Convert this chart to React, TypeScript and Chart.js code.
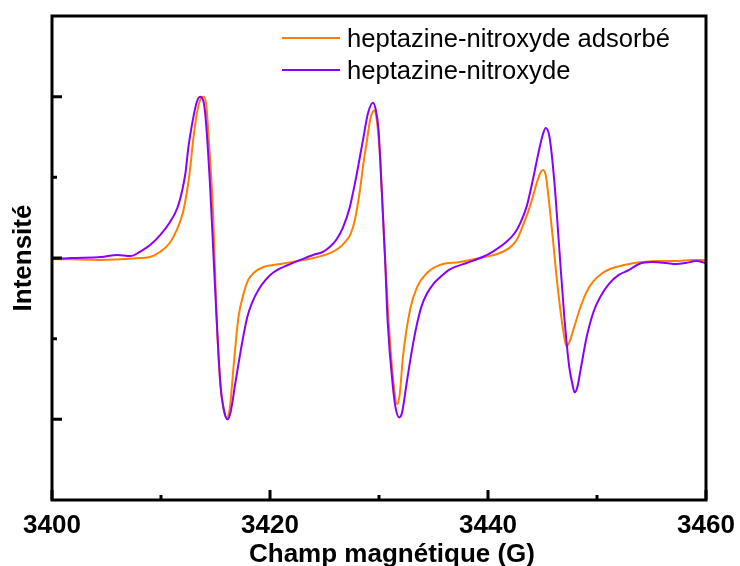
import React, { useEffect, useRef } from 'react';
import { Chart, registerables } from 'chart.js';

Chart.register(...registerables);

// ---- data ----
const xMajorTicks = [3400, 3420, 3440, 3460];
const xMinorTicks = [3410, 3430, 3450];
const yMajorTicks = [-1, 0, 1];
const yMinorTicks = [-0.5, 0.5];

const seriesLabels = ['heptazine-nitroxyde adsorbé', 'heptazine-nitroxyde'];
const xTitle = 'Champ magnétique (G)';
const yTitle = 'Intensité';

const orangeField = [
  3400.0, 3404.5, 3408.1, 3409.0, 3409.9, 3410.8, 3411.45, 3412.0, 3412.4, 3412.65,
  3412.95, 3413.3, 3413.6, 3413.9, 3414.15, 3414.35, 3414.8, 3415.1, 3415.45, 3415.75,
  3416.0, 3416.3, 3416.65, 3417.1, 3417.55, 3418.0, 3418.5, 3419.4, 3420.95, 3422.5,
  3424.0, 3425.5, 3426.3, 3426.9, 3427.4, 3427.8, 3428.25, 3428.6, 3428.9, 3429.2,
  3429.55, 3429.8, 3430.1, 3430.55, 3431.0, 3431.4, 3431.65, 3431.9, 3432.2, 3432.85,
  3433.5, 3434.4, 3435.6, 3437.4, 3439.25, 3441.1, 3442.1, 3442.7, 3443.2, 3443.85,
  3444.45, 3444.75, 3445.05, 3445.3, 3445.45, 3445.9, 3446.35, 3446.85, 3447.2, 3447.45,
  3447.75, 3448.4, 3449.0, 3449.55, 3450.5, 3451.75, 3452.95, 3454.15, 3455.7, 3457.25,
  3458.7, 3460.0,
];
const orangeIntensity = [
  -0.006, -0.012, 0.0, 0.006, 0.037, 0.093, 0.174, 0.279, 0.42, 0.54,
  0.73, 0.9, 0.98, 1.0, 0.95, 0.77, 0.247, -0.37, -0.784, -0.938,
  -0.988, -0.938, -0.679, -0.37, -0.228, -0.136, -0.093, -0.056, -0.037, -0.019,
  0.0, 0.03, 0.06, 0.1, 0.15, 0.24, 0.42, 0.6, 0.73, 0.86,
  0.914, 0.852, 0.623, 0.006, -0.506, -0.815, -0.907, -0.846, -0.611, -0.321,
  -0.179, -0.093, -0.043, -0.025, 0.0, 0.031, 0.07, 0.12, 0.2, 0.32,
  0.46, 0.52, 0.545, 0.512, 0.438, 0.154, -0.154, -0.426, -0.549, -0.525,
  -0.463, -0.321, -0.216, -0.154, -0.093, -0.056, -0.037, -0.025, -0.019, -0.019,
  -0.012, -0.012,
];

const purpleField = [
  3400.0, 3401.7, 3404.5, 3406.0, 3407.2, 3408.1, 3409.0, 3409.9, 3410.8, 3411.5,
  3411.95, 3412.25, 3412.5, 3412.85, 3413.3, 3413.6, 3413.9, 3414.1, 3414.5, 3414.8,
  3415.1, 3415.45, 3415.8, 3416.1, 3416.4, 3416.8, 3417.3, 3417.9, 3418.4, 3419.0,
  3419.6, 3420.3, 3421.6, 3422.8, 3424.0, 3424.9, 3425.5, 3426.1, 3426.7, 3427.3,
  3427.9, 3428.5, 3429.0, 3429.45, 3429.7, 3429.95, 3430.25, 3430.55, 3430.8, 3431.3,
  3431.55, 3431.85, 3432.1, 3432.55, 3433.0, 3433.45, 3433.9, 3434.4, 3435.0, 3435.6,
  3436.5, 3438.05, 3439.5, 3440.45, 3441.7, 3442.45, 3442.95, 3443.55, 3444.1, 3444.75,
  3445.05, 3445.3, 3445.65, 3446.1, 3446.55, 3447.0, 3447.45, 3447.75, 3447.95, 3448.2,
  3448.5, 3449.05, 3449.7, 3450.35, 3451.1, 3452.0, 3452.95, 3453.85, 3455.05, 3456.35,
  3457.25, 3458.15, 3459.1, 3460.0,
];
const purpleIntensity = [
  -0.008, 0.0, 0.006, 0.019, 0.012, 0.04, 0.08, 0.14, 0.22, 0.31,
  0.42, 0.53, 0.68, 0.83, 0.97, 1.0, 0.97, 0.864, 0.451, 0.037,
  -0.37, -0.784, -0.951, -1.0, -0.951, -0.784, -0.58, -0.37, -0.27, -0.19,
  -0.135, -0.09, -0.045, -0.012, 0.02, 0.04, 0.07, 0.115, 0.19, 0.31,
  0.5, 0.72, 0.9, 0.963, 0.92, 0.8, 0.42, 0.006, -0.4, -0.815,
  -0.938, -0.988, -0.963, -0.77, -0.58, -0.42, -0.3, -0.22, -0.16, -0.12,
  -0.07, -0.031, 0.006, 0.04, 0.1, 0.155, 0.215, 0.32, 0.48, 0.69,
  0.77, 0.806, 0.747, 0.463, 0.049, -0.364, -0.673, -0.784, -0.833, -0.8,
  -0.69, -0.49, -0.33, -0.235, -0.16, -0.105, -0.074, -0.037, -0.025, -0.031,
  -0.037, -0.031, -0.019, -0.031,
];

const ORANGE = '#ff8000';
const PURPLE = '#8a00ff';
const FAMILY = '"Liberation Sans", Arial, sans-serif';

const frameTicksPlugin = {
  id: 'frameTicks',
  afterDatasetsDraw(chart: any) {
    const { ctx, chartArea: a, scales } = chart;
    const xs = scales.x;
    const ys = scales.y;
    ctx.save();
    ctx.strokeStyle = '#000';
    ctx.lineWidth = 3;
    ctx.beginPath();
    xMajorTicks.forEach((v) => {
      const p = xs.getPixelForValue(v);
      ctx.moveTo(p, a.bottom);
      ctx.lineTo(p, a.bottom - 10);
    });
    xMinorTicks.forEach((v) => {
      const p = xs.getPixelForValue(v);
      ctx.moveTo(p, a.bottom);
      ctx.lineTo(p, a.bottom - 5);
    });
    yMajorTicks.forEach((v) => {
      const p = ys.getPixelForValue(v);
      ctx.moveTo(a.left, p);
      ctx.lineTo(a.left + 10, p);
    });
    yMinorTicks.forEach((v) => {
      const p = ys.getPixelForValue(v);
      ctx.moveTo(a.left, p);
      ctx.lineTo(a.left + 5, p);
    });
    ctx.stroke();
    ctx.strokeRect(a.left, a.top, a.right - a.left, a.bottom - a.top);
    ctx.restore();
  },
};

const insideLegendPlugin = {
  id: 'insideLegend',
  afterDraw(chart: any) {
    const { ctx, chartArea: a } = chart;
    ctx.save();
    ctx.font = `25.6px ${FAMILY}`;
    ctx.textAlign = 'left';
    ctx.textBaseline = 'alphabetic';
    const rows = [
      { ds: chart.data.datasets[0], y: a.top + 22 },
      { ds: chart.data.datasets[1], y: a.top + 54 },
    ];
    rows.forEach(({ ds, y }) => {
      ctx.strokeStyle = ds.borderColor;
      ctx.lineWidth = 2;
      ctx.beginPath();
      ctx.moveTo(a.left + 230, y);
      ctx.lineTo(a.left + 288, y);
      ctx.stroke();
      ctx.fillStyle = '#000';
      ctx.fillText(ds.label, a.left + 295, y + 8.5);
    });
    // x axis title (slightly right of the plot centre, as in the reference)
    ctx.font = `bold 26px ${FAMILY}`;
    ctx.textAlign = 'center';
    ctx.textBaseline = 'middle';
    ctx.fillText(xTitle, (a.left + a.right) / 2 + 13, 555);
    ctx.restore();
  },
};

export default function App() {
  const canvasRef = useRef<HTMLCanvasElement | null>(null);

  useEffect(() => {
    if (!canvasRef.current) return;
    const chart = new Chart(canvasRef.current, {
      type: 'line',
      data: {
        datasets: [
          {
            label: seriesLabels[0],
            data: orangeField.map((x, i) => ({ x, y: orangeIntensity[i] })),
            borderColor: ORANGE,
            backgroundColor: ORANGE,
            borderWidth: 2,
            pointRadius: 0,
            cubicInterpolationMode: 'monotone',
            order: 1,
          },
          {
            label: seriesLabels[1],
            data: purpleField.map((x, i) => ({ x, y: purpleIntensity[i] })),
            borderColor: PURPLE,
            backgroundColor: PURPLE,
            borderWidth: 2,
            pointRadius: 0,
            cubicInterpolationMode: 'monotone',
            order: 0,
          },
        ],
      },
      options: {
        animation: false,
        responsive: false,
        devicePixelRatio: 1,
        layout: { padding: { top: 16, right: 34, bottom: 0, left: 0 } },
        plugins: {
          legend: { display: false },
          tooltip: { enabled: false },
          title: { display: false },
        },
        scales: {
          x: {
            type: 'linear',
            min: 3400,
            max: 3460,
            grid: { display: false, drawTicks: false },
            border: { display: false },
            afterBuildTicks: (scale: any) => {
              scale.ticks = xMajorTicks.map((value) => ({ value }));
            },
            afterFit: (scale: any) => {
              scale.height = 66;
              scale.paddingLeft = 0;
              scale.paddingRight = 0;
            },
            ticks: {
              autoSkip: false,
              maxRotation: 0,
              minRotation: 0,
              padding: 10,
              color: '#000',
              font: { family: FAMILY, size: 26, weight: 'bold' },
              callback: (v: any) => String(v),
            },
            title: { display: false, text: xTitle },
          },
          y: {
            type: 'linear',
            min: -1.5,
            max: 1.5,
            grid: { display: false, drawTicks: false },
            border: { display: false },
            ticks: { display: false },
            afterFit: (scale: any) => {
              scale.width = 52;
            },
            title: {
              display: true,
              text: yTitle,
              color: '#000',
              font: { family: FAMILY, size: 26, weight: 'bold', lineHeight: 1 },
              padding: { top: 11, bottom: 0 },
            },
          },
        },
      },
      plugins: [frameTicksPlugin, insideLegendPlugin],
    } as any);
    return () => chart.destroy();
  }, []);

  return (
    <div style={{ position: 'absolute', left: 0, top: 0, width: 740, height: 566, background: '#fff' }}>
      <canvas ref={canvasRef} width={740} height={566} style={{ display: 'block' }} />
    </div>
  );
}
